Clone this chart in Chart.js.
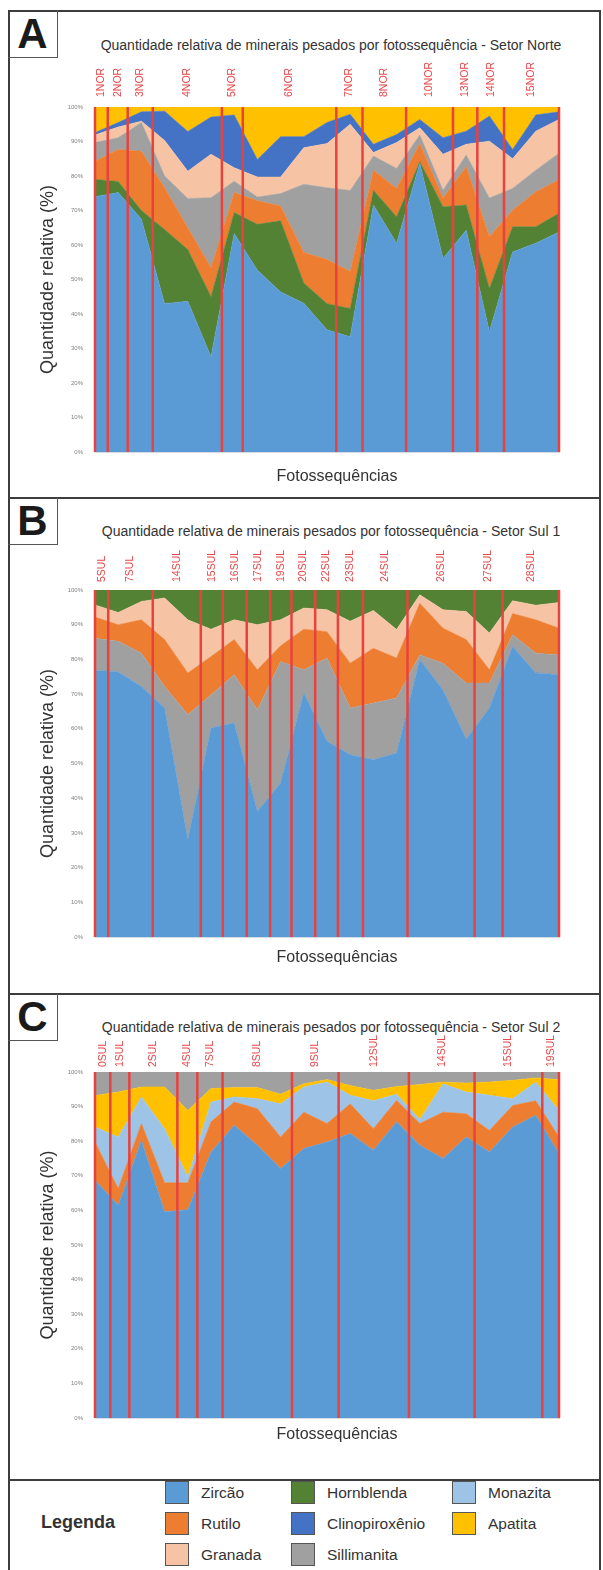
<!DOCTYPE html>
<html lang="pt-br">
<head>
<meta charset="UTF-8">
<title>Minerais pesados por fotossequência</title>
<script src="https://cdn.jsdelivr.net/npm/chart.js"></script>
<style>
    body { margin: 0; background: #fff; font-family: "Liberation Sans", Arial, sans-serif; color: #333; }
    #pagina { position: relative; width: 603px; height: 1570px; overflow: hidden; }
    .moldura { position: absolute; left: 8px; top: 10px; width: 593px; height: 1600px; border: 2px solid #3d3d3d; box-sizing: border-box; }
    .divisoria { position: absolute; left: 8px; width: 593px; border-top: 2px solid #3d3d3d; }
    .letra { position: absolute; left: 8px; width: 50px; height: 48px; border-right: 1.5px solid #555; border-bottom: 1.5px solid #555; box-sizing: border-box; font-weight: bold; font-size: 42px; line-height: 48px; text-align: center; color: #1a1a1a; }
    .titulo { position: absolute; left: 100px; width: 462px; height: 16px; line-height: 16px; text-align: center; font-size: 14px; color: #333; white-space: nowrap; }
    .eixo-x { position: absolute; left: 105px; width: 464px; height: 20px; line-height: 20px; text-align: center; font-size: 16px; color: #333; }
    canvas { position: absolute; left: 35px; }
    .legenda-titulo { position: absolute; left: 41px; top: 1510px; font-weight: bold; font-size: 18px; line-height: 24px; color: #333; }
    .item { position: absolute; height: 23px; line-height: 23px; font-size: 15.5px; color: #333; }
    .item span { position: absolute; left: 0; top: 0; width: 24px; height: 23px; border: 1.5px solid #555; box-sizing: border-box; }
    .item b { position: absolute; left: 36px; top: 0; font-weight: normal; white-space: nowrap; }
</style>
</head>
<body>
<div id="pagina">
    <div class="moldura"></div>
    <div class="divisoria" style="top:497px"></div>
    <div class="divisoria" style="top:993px"></div>
    <div class="divisoria" style="top:1479px"></div>

    <div class="letra" style="top:10px">A</div>
    <div class="letra" style="top:497px">B</div>
    <div class="letra" style="top:993px">C</div>

    <div class="titulo" style="top:37px">Quantidade relativa de minerais pesados por fotossequência - Setor Norte</div>
    <div class="titulo" style="top:523px">Quantidade relativa de minerais pesados por fotossequência - Setor Sul 1</div>
    <div class="titulo" style="top:1019px">Quantidade relativa de minerais pesados por fotossequência - Setor Sul 2</div>

    <canvas id="graficoNorte" width="530" height="431" style="top:55px"></canvas>
    <canvas id="graficoSul1" width="530" height="432" style="top:535px"></canvas>
    <canvas id="graficoSul2" width="530" height="414" style="top:1030px"></canvas>

    <div class="eixo-x" style="top:466px">Fotossequências</div>
    <div class="eixo-x" style="top:947px">Fotossequências</div>
    <div class="eixo-x" style="top:1424px">Fotossequências</div>

    <div class="legenda-titulo">Legenda</div>
    <div id="legenda"></div>
</div>

<script>
// posições das amostras no eixo x (21 amostras por setor)
const amostras = [0, 1, 2, 3, 4, 5, 6, 7, 8, 9, 10, 11, 12, 13, 14, 15, 16, 17, 18, 19, 20];

// Setor Norte (%)
const norteZircao   = [74, 75.2, 67.5, 43, 43.7, 27.6, 63.3, 52.7, 46.4, 43.1, 35.4, 33.4, 71.6, 60.5, 83.7, 56.1, 64.3, 34.9, 58, 60.5, 63.8];
const norteHornbl   = [5, 3.2, 2.5, 21.5, 15, 17.4, 6.1, 13.3, 20.6, 5.9, 7.6, 8.2, 4.3, 7.7, 0.5, 15, 7.3, 12.5, 7.3, 4.8, 5.4];
const norteRutilo   = [5.3, 9.3, 17.2, 12.1, 6.3, 8.4, 5.8, 6.8, 4.3, 8.8, 12.8, 10.7, 5.8, 8.2, 5.2, 2.5, 11.1, 15, 4.8, 10.1, 9.7];
const norteSillim   = [5.4, 3.4, 8.3, 3.4, 8.5, 20.3, 3.3, 1.1, 3.6, 19.8, 20.8, 23.5, 4.1, 5.8, 2.5, 2.3, 3.4, 11.2, 6.3, 6.3, 7.7];
const norteGranada  = [2.2, 3.1, 0.4, 10.3, 7.9, 12.6, 3.9, 5.8, 4.8, 10.6, 12.8, 19.2, 1, 7.5, 2.1, 10.4, 3.1, 16.5, 8.6, 11.3, 9.8];
const norteClinop   = [0.7, 1.3, 2.7, 8.5, 11.5, 10.8, 15.3, 5.1, 11.7, 3.2, 6.1, 2.9, 2.4, 2.3, 2.4, 4.8, 3.8, 7.3, 2.7, 4.7, 2.2];
const norteApatita  = [7.4, 4.5, 1.4, 1.2, 7.1, 2.9, 2.3, 15.2, 8.6, 8.6, 4.5, 2.1, 10.8, 8, 3.6, 8.9, 7, 2.6, 12.3, 2.3, 1.4];
const norteCortes   = [0, 0.55, 1.41, 2.49, 5.47, 6.37, 10.4, 11.53, 13.41, 15.43, 16.48, 17.63, 20];
const norteRotulos  = ['1NOR', '2NOR', '3NOR', '4NOR', '5NOR', '6NOR', '7NOR', '8NOR', '10NOR', '13NOR', '14NOR', '15NOR'];

// Setor Sul 1 (%)
const sul1Zircao    = [76.9, 76.4, 72.2, 66, 28, 60.2, 61.7, 36.2, 44.4, 70.3, 56.4, 52.5, 51.1, 53, 80, 71.2, 57, 66, 83.7, 76.1, 75.6];
const sul1Sillim    = [9.2, 8.8, 9.6, 6.2, 36.1, 9.6, 13.9, 29.3, 35, 6.7, 24, 13.5, 16.3, 15.9, 1.3, 7.7, 16.2, 7.2, 3.4, 5.7, 5.7];
const sul1Rutilo    = [6.1, 4.8, 9.6, 13.5, 12, 11, 10.1, 11.5, 4.5, 11.7, 7.6, 12.9, 15.8, 11.5, 14.9, 10.1, 12.5, 3.8, 6.1, 9.6, 7.7];
const sul1Granada   = [3.5, 3.5, 5.3, 12, 15.3, 7.9, 5.7, 13, 7.5, 6.1, 6.3, 12.1, 10.9, 8.2, 2.4, 5.3, 8.1, 10.6, 3.7, 4.2, 7.4];
const sul1Hornbl    = [4.3, 6.5, 3.3, 2.3, 8.6, 11.3, 8.6, 10, 8.6, 5.2, 5.7, 9, 5.9, 11.4, 1.4, 5.7, 6.2, 12.4, 3.1, 4.4, 3.6];
const sul1Cortes    = [0, 0.57, 2.49, 4.56, 5.51, 6.54, 7.55, 8.47, 9.49, 10.47, 11.55, 13.47, 16.36, 17.57, 20];
const sul1Rotulos   = ['5SUL', '7SUL', '14SUL', '15SUL', '16SUL', '17SUL', '19SUL', '20SUL', '22SUL', '23SUL', '24SUL', '26SUL', '27SUL', '28SUL'];

// Setor Sul 2 (%)
const sul2Zircao    = [68.7, 61.5, 80.3, 59.6, 60.2, 76.9, 84.6, 78.8, 72.1, 77.9, 79.8, 82.2, 77.4, 85.6, 78.8, 75, 81.2, 76.9, 84.1, 87.5, 76.4];
const sul2Rutilo    = [11.1, 4.8, 4.8, 8.4, 7.8, 8.7, 6.7, 10.6, 9.1, 10.5, 5.3, 8.6, 6.2, 6.2, 6.3, 13.4, 6.7, 6.2, 6.2, 4.2, 4.8];
const sul2Monazita  = [4.3, 14.9, 7.7, 15.6, 1.7, 5.7, 1.5, 2.9, 9.6, 7.3, 12, 2.5, 8.1, 1.8, 1.2, 8.2, 6.3, 10.2, 2, 5.4, 7.7];
const sul2Apatita   = [9.1, 13, 2.9, 12.1, 19.2, 3.9, 2.7, 3.2, 2.8, 0.9, 0.7, 2.8, 3, 2.2, 10.1, 0.5, 2.6, 3.8, 5.3, 1.2, 8.9];
const sul2Sillim    = [6.8, 5.8, 4.3, 4.3, 11.1, 4.8, 4.5, 4.5, 6.4, 3.4, 2.2, 3.9, 5.3, 4.2, 3.6, 2.9, 3.2, 2.9, 2.4, 1.7, 2.2];
const sul2Cortes    = [0, 0.66, 1.48, 3.55, 4.41, 5.5, 8.49, 10.5, 13.53, 16.36, 19.28, 20];
const sul2Rotulos   = ['0SUL', '1SUL', '2SUL', '4SUL', '7SUL', '8SUL', '9SUL', '12SUL', '14SUL', '15SUL', '19SUL'];

const cores = {
    'Zircão': '#5b9bd5',
    'Rutilo': '#ed7d31',
    'Granada': '#f6c4a4',
    'Hornblenda': '#548235',
    'Clinopiroxênio': '#4472c4',
    'Sillimanita': '#a0a0a0',
    'Monazita': '#9dc3e6',
    'Apatita': '#ffc000'
};

const fonte = '"Liberation Sans", Arial, sans-serif';

// linhas vermelhas das fotossequências e seus rótulos
const linhasVermelhas = {
    id: 'linhasVermelhas',
    afterDatasetsDraw(chart, args, opts) {
        const { ctx, chartArea } = chart;
        const x = chart.scales.x;
        ctx.save();
        ctx.strokeStyle = '#e8423f';
        ctx.lineWidth = 2.5;
        opts.cortes.forEach(c => {
            const px = x.getPixelForValue(c);
            ctx.beginPath();
            ctx.moveTo(px, chartArea.top);
            ctx.lineTo(px, chartArea.bottom);
            ctx.stroke();
        });
        ctx.fillStyle = '#e8474a';
        ctx.font = '10.5px ' + fonte;
        ctx.textAlign = 'left';
        ctx.textBaseline = 'middle';
        opts.rotulos.forEach((r, i) => {
            const px = x.getPixelForValue((opts.cortes[i] + opts.cortes[i + 1]) / 2);
            ctx.save();
            ctx.translate(px, chartArea.top - opts.folga);
            ctx.rotate(-Math.PI / 2);
            ctx.fillText(r, 0, 0);
            ctx.restore();
        });
        ctx.restore();
    }
};

function montarGrafico(id, series, cortes, rotulos, padTop, alturaX, folga) {
    const datasets = series.map((s, i) => ({
        label: s.nome,
        data: s.valores.map((v, k) => ({ x: amostras[k], y: v })),
        backgroundColor: cores[s.nome],
        borderColor: cores[s.nome],
        borderWidth: 0.5,
        pointRadius: 0,
        tension: 0,
        fill: i === 0 ? 'origin' : '-1'
    }));

    return new Chart(document.getElementById(id), {
        type: 'line',
        data: { datasets },
        options: {
            responsive: false,
            animation: false,
            events: [],
            layout: { padding: { top: padTop, right: 6, bottom: 0, left: 0 } },
            plugins: {
                legend: { display: false },
                tooltip: { enabled: false },
                linhasVermelhas: { cortes, rotulos, folga }
            },
            scales: {
                x: {
                    type: 'linear',
                    min: 0,
                    max: 20,
                    grid: { display: false },
                    border: { display: true, color: '#d6dbe3', width: 1 },
                    ticks: { display: false },
                    afterFit: s => { s.height = alturaX; }
                },
                y: {
                    stacked: true,
                    min: 0,
                    max: 100,
                    grid: { display: false },
                    border: { display: false },
                    ticks: { stepSize: 10, padding: 4, color: '#808080', font: { family: fonte, size: 6 }, callback: v => v + '%' },
                    title: { display: true, text: 'Quantidade relativa (%)', color: '#333', padding: { top: 2, bottom: 0 }, font: { family: fonte, size: 18, lineHeight: 1.2 } },
                    afterFit: s => { s.width = 60; }
                }
            }
        },
        plugins: [linhasVermelhas]
    });
}

montarGrafico('graficoNorte', [
    { nome: 'Zircão', valores: norteZircao },
    { nome: 'Hornblenda', valores: norteHornbl },
    { nome: 'Rutilo', valores: norteRutilo },
    { nome: 'Sillimanita', valores: norteSillim },
    { nome: 'Granada', valores: norteGranada },
    { nome: 'Clinopiroxênio', valores: norteClinop },
    { nome: 'Apatita', valores: norteApatita }
], norteCortes, norteRotulos, 52, 34, 10);

montarGrafico('graficoSul1', [
    { nome: 'Zircão', valores: sul1Zircao },
    { nome: 'Sillimanita', valores: sul1Sillim },
    { nome: 'Rutilo', valores: sul1Rutilo },
    { nome: 'Granada', valores: sul1Granada },
    { nome: 'Hornblenda', valores: sul1Hornbl }
], sul1Cortes, sul1Rotulos, 55, 30, 8);

montarGrafico('graficoSul2', [
    { nome: 'Zircão', valores: sul2Zircao },
    { nome: 'Rutilo', valores: sul2Rutilo },
    { nome: 'Monazita', valores: sul2Monazita },
    { nome: 'Apatita', valores: sul2Apatita },
    { nome: 'Sillimanita', valores: sul2Sillim }
], sul2Cortes, sul2Rotulos, 42, 26, 5);

// legenda em três colunas
const legendaItens = [
    ['Zircão', 165, 1481], ['Rutilo', 165, 1512], ['Granada', 165, 1543],
    ['Hornblenda', 291, 1481], ['Clinopiroxênio', 291, 1512], ['Sillimanita', 291, 1543],
    ['Monazita', 452, 1481], ['Apatita', 452, 1512]
];
const legenda = document.getElementById('legenda');
legendaItens.forEach(([nome, x, y]) => {
    const div = document.createElement('div');
    div.className = 'item';
    div.style.left = x + 'px';
    div.style.top = y + 'px';
    div.innerHTML = `<span style="background:${cores[nome]}"></span><b>${nome}</b>`;
    legenda.appendChild(div);
});
</script>
</body>
</html>
